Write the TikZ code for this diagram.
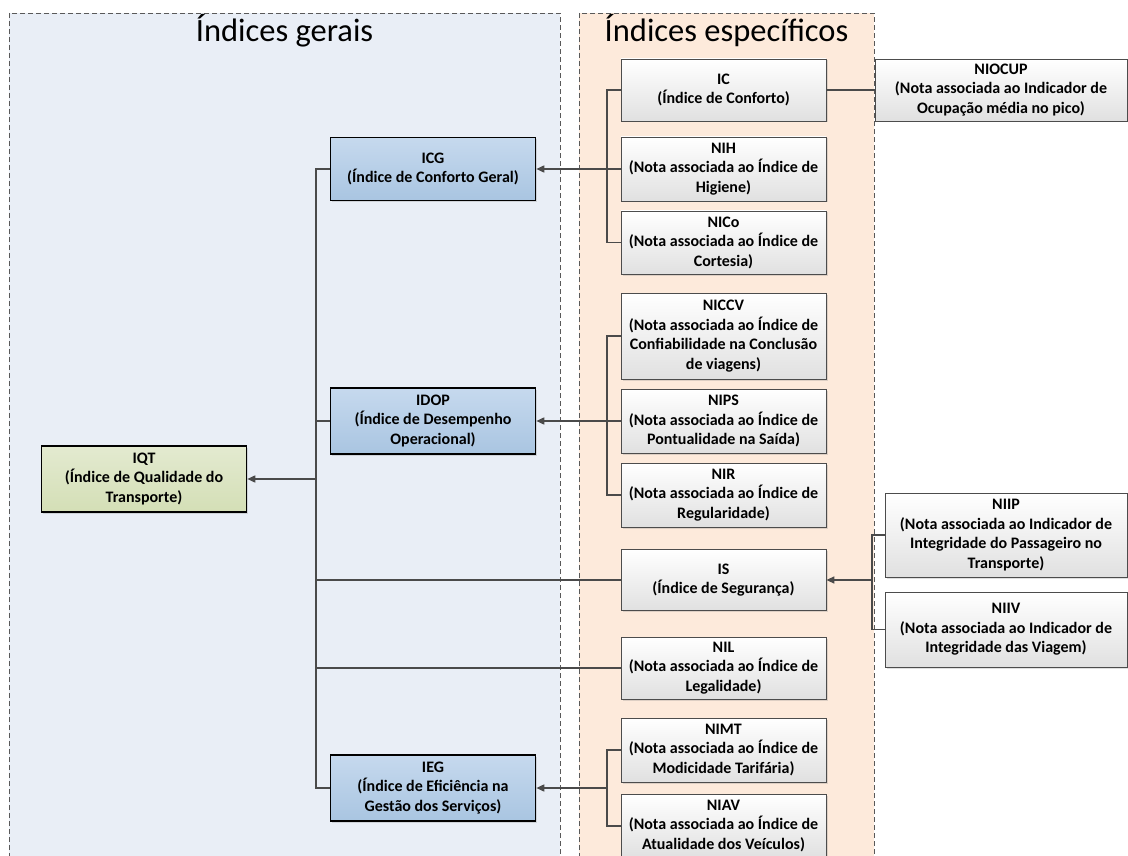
\documentclass[tikz,border=0pt]{standalone}
\usepackage{fontspec}
\setmainfont{Carlito}
\usetikzlibrary{arrows.meta,shadows}

\definecolor{geralfill}{HTML}{E9EEF6}
\definecolor{especfill}{HTML}{FDEADB}
\definecolor{linecol}{HTML}{4A4A4A}
\definecolor{bluetop}{HTML}{C6D9EE}
\definecolor{bluebot}{HTML}{A9C5E1}
\definecolor{greentop}{HTML}{E3EAD0}
\definecolor{greenbot}{HTML}{D4DFB6}

\tikzset{
  caixa/.style={draw=black!70, line width=0.8pt, top color=white, bottom color=black!12,
    align=center, font=\bfseries\fontsize{16}{19.5}\selectfont, minimum width=205pt, inner sep=1pt,
    drop shadow={shadow xshift=1.5pt, shadow yshift=-1.5pt, opacity=0.25}},
  geral/.style={caixa, draw=black, line width=1.6pt, top color=bluetop, bottom color=bluebot},
  total/.style={geral, top color=greentop, bottom color=greenbot},
  conn/.style={draw=linecol, line width=1.2pt},
  seta/.style={conn, line width=1.6pt, -{Triangle[length=8pt,width=7pt]}},
  grupo/.style={draw=black!65, dash pattern=on 5pt off 3pt, line width=0.8pt},
  titulo/.style={font=\fontsize{32.5}{36}\selectfont, anchor=base}
}

\begin{document}
\begin{tikzpicture}[x=1pt,y=-1pt]
  \clip (0,0) rectangle (1128,856);

  % areas
  \draw[grupo, fill=geralfill] (9,13) rectangle (560,870);
  \draw[grupo, fill=especfill] (579,13) rectangle (874,870);
  \node[titulo] (tger) at (284.5,42) {Índices gerais};
  \node[titulo] (tesp) at (726.5,42) {Índices específicos};

  % indices gerais
  \node[total, minimum height=66pt] (iqt) at (144,479) {IQT\\(Índice de Qualidade do\\Transporte)};
  \node[geral, minimum height=63pt] (icg) at (433,169) {ICG\\(Índice de Conforto Geral)};
  \node[geral, minimum height=66pt] (idop) at (433,421) {IDOP\\(Índice de Desempenho\\Operacional)};
  \node[geral, minimum height=66pt] (ieg) at (433,788) {IEG\\(Índice de Eficiência na\\Gestão dos Serviços)};

  % indices especificos
  \node[caixa, minimum height=62pt] (ic) at (723.5,90) {IC\\(Índice de Conforto)};
  \node[caixa, minimum height=64pt] (nih) at (723.5,169) {NIH\\(Nota associada ao Índice de\\Higiene)};
  \node[caixa, minimum height=63pt] (nico) at (723.5,242.5) {NICo\\(Nota associada ao Índice de\\Cortesia)};
  \node[caixa, minimum height=86pt] (niccv) at (723.5,336) {NICCV\\(Nota associada ao Índice de\\Confiabilidade na Conclusão\\de viagens)};
  \node[caixa, minimum height=64pt] (nips) at (723.5,421) {NIPS\\(Nota associada ao Índice de\\Pontualidade na Saída)};
  \node[caixa, minimum height=64pt] (nir) at (723.5,495) {NIR\\(Nota associada ao Índice de\\Regularidade)};
  \node[caixa, minimum height=61pt] (is) at (723.5,580) {IS\\(Índice de Segurança)};
  \node[caixa, minimum height=62pt] (nil) at (723.5,668) {NIL\\(Nota associada ao Índice de\\Legalidade)};
  \node[caixa, minimum height=64pt] (nimt) at (723.5,750) {NIMT\\(Nota associada ao Índice de\\Modicidade Tarifária)};
  \node[caixa, minimum height=64pt] (niav) at (723.5,826) {NIAV\\(Nota associada ao Índice de\\Atualidade dos Veículos)};

  % indicadores
  \node[caixa, minimum width=252pt, minimum height=62pt] (niocup) at (1001,90) {NIOCUP\\(Nota associada ao Indicador de\\Ocupação média no pico)};
  \node[caixa, minimum width=242pt, minimum height=84pt] (niip) at (1006,535) {NIIP\\(Nota associada ao Indicador de\\Integridade do Passageiro no\\Transporte)};
  \node[caixa, minimum width=242pt, minimum height=75pt] (niiv) at (1006,629.5) {NIIV\\(Nota associada ao Indicador de\\Integridade das Viagem)};

  % barramentos
  \coordinate (b0) at (316,0);
  \coordinate (b1) at (607,0);
  \coordinate (b2) at (872,0);

  \draw[conn] (icg.west) -- (icg.west -| b0) -- (ieg.west -| b0) -- (ieg.west);
  \draw[conn] (idop.west) -- (idop.west -| b0);
  \draw[conn] (is.west) -- (is.west -| b0);
  \draw[conn] (nil.west) -- (nil.west -| b0);
  \draw[seta] (iqt.east -| b0) -- (iqt.east);

  \draw[conn] (ic.west) -- (ic.west -| b1) -- (nico.west -| b1) -- (nico.west);
  \draw[conn] (nih.west) -- (nih.west -| b1);
  \draw[seta] (nih.west -| b1) -- (icg.east);

  \draw[conn] (niccv.west) -- (niccv.west -| b1) -- (nir.west -| b1) -- (nir.west);
  \draw[conn] (nips.west) -- (nips.west -| b1);
  \draw[seta] (nips.west -| b1) -- (idop.east);

  \draw[conn] (nimt.west) -- (nimt.west -| b1) -- (niav.west -| b1) -- (niav.west);
  \draw[seta] (ieg.east -| b1) -- (ieg.east);

  \draw[conn] (ic.east) -- (niocup.west);
  \draw[conn] (niip.west) -- (niip.west -| b2) -- (niiv.west -| b2) -- (niiv.west);
  \draw[seta] (is.east -| b2) -- (is.east);
\end{tikzpicture}
\end{document}
